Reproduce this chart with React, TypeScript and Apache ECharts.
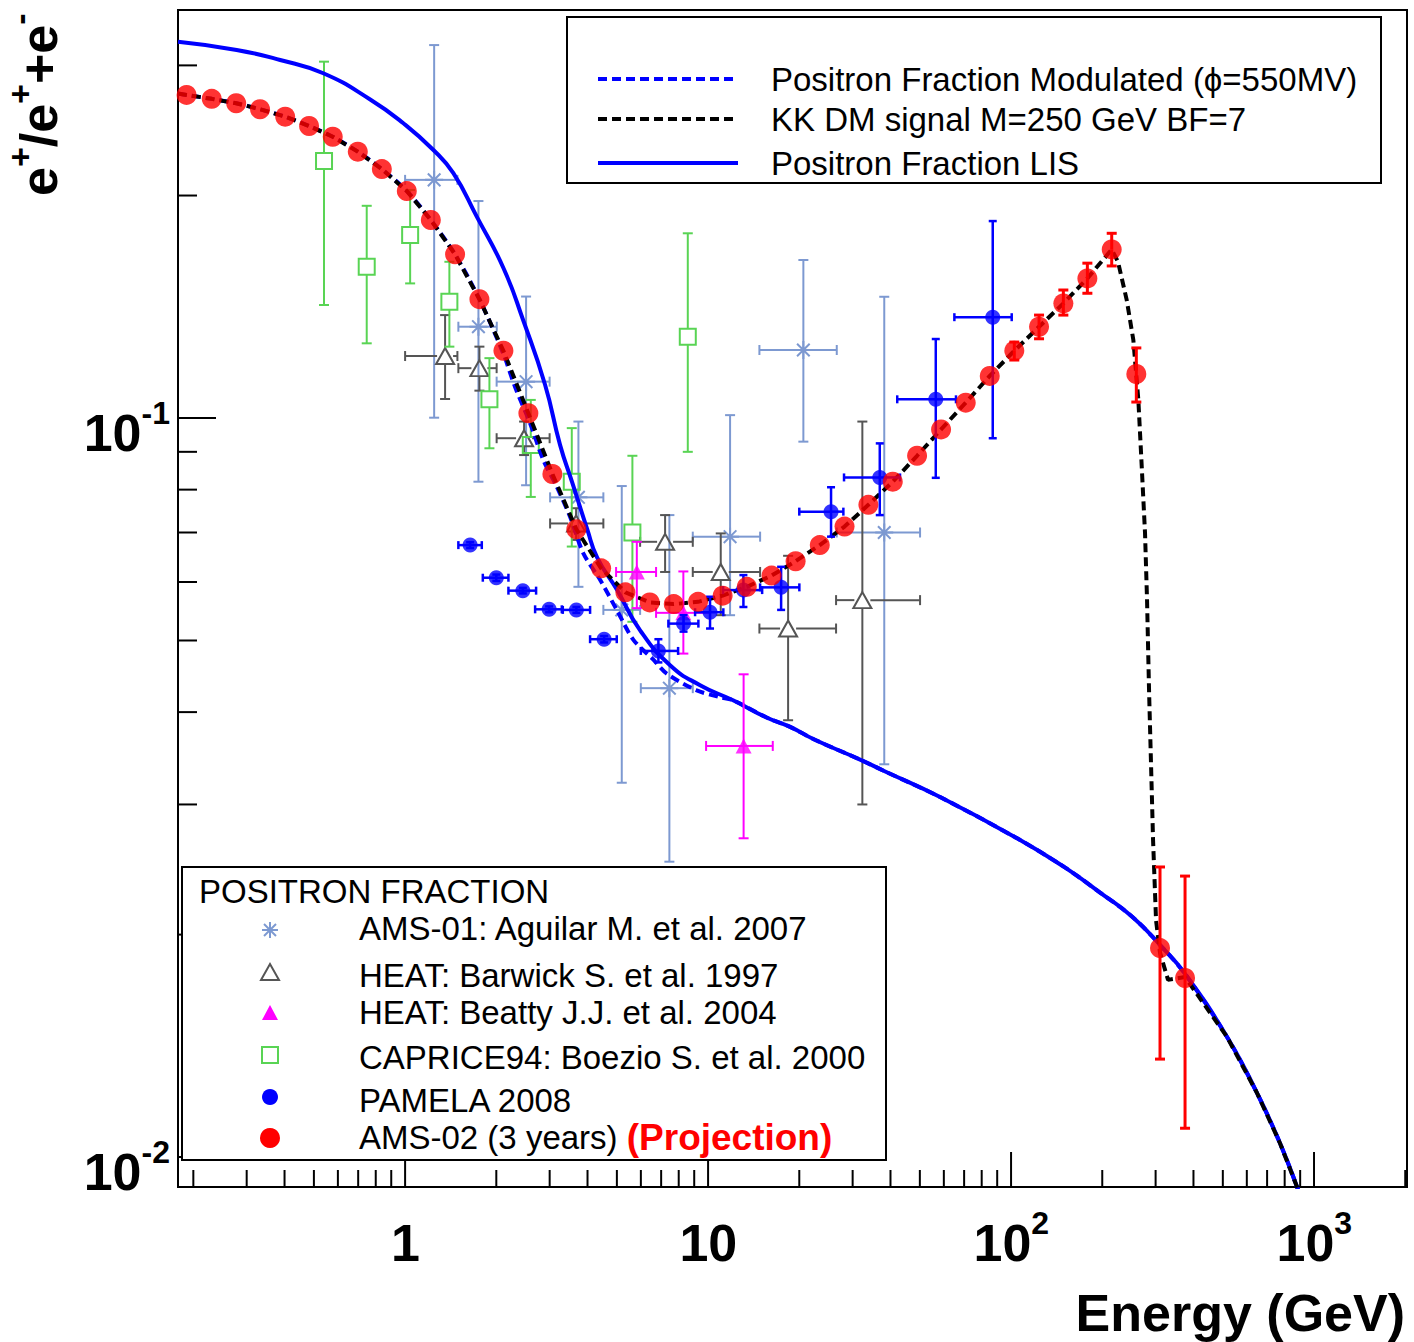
import React, { useEffect, useRef } from 'react';
import * as echarts from 'echarts';

const FONT = "'Liberation Sans', Arial, Helvetica, sans-serif";

// ---------------- axis ranges & ticks ----------------
const X_MIN = 0.178;
const X_MAX = 2027;
const Y_MIN = 0.00911;
const Y_MAX = 0.3565;

const xMajorTicks = [1, 10, 100, 1000];
const xMinorTicks = [0.2, 0.3, 0.4, 0.5, 0.6, 0.7, 0.8, 0.9, 2, 3, 4, 5, 6, 7, 8, 9, 20, 30, 40, 50, 60, 70, 80, 90, 200, 300, 400, 500, 600, 700, 800, 900, 2000];
const yMajorTicks = [0.01, 0.1];
const yMinorTicks = [0.02, 0.03, 0.04, 0.05, 0.06, 0.07, 0.08, 0.09, 0.2, 0.3];

// ---------------- model curves ----------------
const lisE = [0.178, 0.278, 0.387, 0.537, 0.767, 0.987, 1.24, 1.443, 1.724, 2.111, 2.452, 2.897, 3.248, 3.558, 3.988, 4.302, 5.009, 5.966, 7.491, 9.41, 12.09, 15.66, 18.65, 22.51, 31.74, 38.1, 58.31, 104.7, 149.6, 196.7, 252.7, 312.6, 375.2, 516.3, 648.4, 772.2, 878.9, 970];
const lisV = [0.3229, 0.3148, 0.3051, 0.2927, 0.2698, 0.2505, 0.2305, 0.2144, 0.1873, 0.1596, 0.1357, 0.1109, 0.0919, 0.0819, 0.0708, 0.0648, 0.0585, 0.0516, 0.0463, 0.0435, 0.0415, 0.0393, 0.0382, 0.0367, 0.0345, 0.0333, 0.0307, 0.027, 0.0247, 0.0228, 0.0211, 0.0193, 0.0177, 0.01454, 0.01221, 0.01044, 0.00911, 0.00809];

const modE = [0.178, 0.19, 0.23, 0.277, 0.332, 0.402, 0.482, 0.577, 0.698, 0.838, 1.013, 1.216, 1.462, 1.759, 2.111, 2.307, 2.585, 2.86, 3.168, 3.503, 3.876, 4.401, 4.996, 5.669, 6.598, 7.305, 9.178, 10.95, 12.09, 15.66, 18.65, 22.51, 31.74, 38.1, 58.31, 104.7, 149.6, 196.7, 252.7, 312.6, 375.2, 516.3, 648.4, 772.2, 878.9, 970];
const modV = [0.2749, 0.2736, 0.2703, 0.2666, 0.2617, 0.2557, 0.2484, 0.2402, 0.2293, 0.2172, 0.2028, 0.1853, 0.1665, 0.1448, 0.1221, 0.1101, 0.0984, 0.0877, 0.0807, 0.0735, 0.0656, 0.0604, 0.055, 0.0501, 0.0471, 0.0451, 0.0428, 0.0419, 0.0415, 0.0393, 0.0382, 0.0367, 0.0345, 0.0333, 0.0307, 0.027, 0.0247, 0.0228, 0.0211, 0.0193, 0.0177, 0.01454, 0.01221, 0.01044, 0.00911, 0.00809];

const kkE = [0.178, 0.19, 0.23, 0.277, 0.332, 0.402, 0.482, 0.577, 0.698, 0.838, 1.013, 1.216, 1.462, 1.759, 2.111, 2.552, 3.063, 3.675, 4.436, 5.335, 6.421, 7.704, 9.268, 11.17, 13.42, 16.2, 19.45, 23.37, 28.21, 33.81, 40.7, 48.96, 58.75, 70.87, 85.05, 102.5, 123.7, 148.8, 178.6, 214.9, 225.5, 240.9, 253.3, 263.1, 270.0, 276.8, 281.1, 285.4, 289.8, 294.2, 301.0, 310.2, 329.7, 375.2, 516.3, 648.4, 772.2, 878.9, 970];
const kkV = [0.2749, 0.2736, 0.2703, 0.2666, 0.2617, 0.2557, 0.2484, 0.2402, 0.2293, 0.2172, 0.2028, 0.1853, 0.1665, 0.1448, 0.1233, 0.1015, 0.084, 0.0707, 0.0626, 0.0581, 0.0563, 0.056, 0.0564, 0.0575, 0.0591, 0.0612, 0.064, 0.0673, 0.0713, 0.0763, 0.082, 0.0889, 0.0965, 0.1049, 0.114, 0.1233, 0.1329, 0.1429, 0.1545, 0.1691, 0.1626, 0.1444, 0.1275, 0.1058, 0.0859, 0.0699, 0.0567, 0.0428, 0.0339, 0.0269, 0.0209, 0.0189, 0.01737, 0.01752, 0.01454, 0.01221, 0.01044, 0.00911, 0.00809];

// ---------------- measurements ----------------
// AMS-01: Aguilar M. et al. 2007
const ams01E = [1.247, 1.746, 2.508, 3.733, 5.189, 7.452, 11.82, 20.63, 38.15];
const ams01Elo = [1.0, 1.499, 2.005, 3.01, 4.512, 5.998, 8.902, 14.77, 26.59];
const ams01Ehi = [1.488, 2.007, 2.999, 4.512, 5.966, 8.902, 14.85, 26.59, 50.08];
const ams01V = [0.21, 0.1329, 0.112, 0.0781, 0.055, 0.0431, 0.0691, 0.1236, 0.07];
const ams01Vlo = [0.1001, 0.082, 0.0811, 0.0591, 0.0321, 0.0251, 0.0541, 0.0929, 0.034];
const ams01Vhi = [0.3196, 0.1966, 0.146, 0.0989, 0.0809, 0.0739, 0.1009, 0.1636, 0.1459];

// HEAT: Barwick S. et al. 1997
const heat97E = [1.355, 1.759, 2.47, 3.667, 7.213, 11.01, 18.37, 32.3];
const heat97Elo = [1.0, 1.499, 2.005, 3.01, 5.966, 8.902, 14.77, 26.45];
const heat97Ehi = [1.488, 2.005, 2.999, 4.512, 8.902, 14.85, 26.45, 50.08];
const heat97V = [0.1213, 0.1168, 0.0939, 0.072, 0.068, 0.0619, 0.0519, 0.0567];
const heat97Vlo = [0.1061, 0.1089, 0.0891, 0.0684, 0.0619, 0.0541, 0.039, 0.03];
const heat97Vhi = [0.1378, 0.1249, 0.0989, 0.0755, 0.0739, 0.0698, 0.0651, 0.0989];

// HEAT: Beatty J.J. et al. 2004
const heat04E = [5.818, 8.287, 13.1];
const heat04Elo = [4.97, 6.735, 9.85];
const heat04Ehi = [6.735, 10.15, 16.35];
const heat04V = [0.0619, 0.0545, 0.036];
const heat04Vlo = [0.0553, 0.048, 0.027];
const heat04Vhi = [0.068, 0.062, 0.045];

// CAPRICE94: Boezio S. et al. 2000
const capriceE = [0.54, 0.747, 1.039, 1.4, 1.898, 2.599, 3.549, 5.626, 8.571];
const capriceV = [0.2228, 0.1602, 0.1769, 0.1437, 0.106, 0.0919, 0.082, 0.07, 0.1288];
const capriceVlo = [0.1422, 0.1262, 0.1521, 0.1249, 0.091, 0.0782, 0.067, 0.053, 0.09];
const capriceVhi = [0.3035, 0.1937, 0.2035, 0.1627, 0.1205, 0.1058, 0.0969, 0.0889, 0.1778];

// PAMELA 2008
const pamelaE = [1.639, 2.0, 2.447, 2.988, 3.675, 4.538, 6.855, 8.299, 10.15, 13.08, 17.42, 25.46, 36.87, 56.43, 87.0];
const pamelaElo = [1.499, 1.805, 2.193, 2.686, 3.315, 4.079, 5.998, 7.396, 9.06, 11.21, 14.85, 20.0, 28.1, 42.1, 65.0];
const pamelaEhi = [1.791, 2.193, 2.706, 3.29, 4.079, 4.995, 7.962, 9.29, 11.23, 15.08, 20.01, 27.96, 43.0, 65.8, 100.5];
const pamelaV = [0.0673, 0.0608, 0.0584, 0.0551, 0.055, 0.0502, 0.0484, 0.0527, 0.0546, 0.0585, 0.059, 0.0747, 0.0831, 0.106, 0.1369];
const pamelaVlo = [0.0667, 0.0602, 0.0579, 0.0546, 0.0545, 0.0497, 0.0467, 0.0514, 0.0519, 0.0555, 0.055, 0.0691, 0.0739, 0.083, 0.0939];
const pamelaVhi = [0.0679, 0.0614, 0.0589, 0.0556, 0.0555, 0.0507, 0.0502, 0.0541, 0.0573, 0.0613, 0.0629, 0.0806, 0.0924, 0.1279, 0.1847];

// AMS-02 (3 years) projection
const ams02E = [0.19, 0.23, 0.277, 0.332, 0.402, 0.482, 0.577, 0.698, 0.838, 1.013, 1.216, 1.462, 1.759, 2.111, 2.552, 3.063, 3.675, 4.436, 5.335, 6.421, 7.704, 9.268, 11.17, 13.42, 16.2, 19.45, 23.37, 28.21, 33.81, 40.7, 48.96, 58.75, 70.87, 85.05, 102.5, 123.7, 148.8, 178.6, 214.9, 259.1, 310.2, 375.2];
const ams02V = [0.2736, 0.2703, 0.2666, 0.2617, 0.2557, 0.2484, 0.2402, 0.2293, 0.2172, 0.2028, 0.1853, 0.1665, 0.1448, 0.1233, 0.1015, 0.084, 0.0707, 0.0626, 0.0581, 0.0563, 0.056, 0.0564, 0.0575, 0.0591, 0.0612, 0.064, 0.0673, 0.0713, 0.0763, 0.082, 0.0889, 0.0965, 0.1049, 0.114, 0.1233, 0.1329, 0.1429, 0.1545, 0.1691, 0.1147, 0.01918, 0.01747];
const ams02BarE = [102.5, 123.7, 148.8, 178.6, 214.9, 259.1, 310.2, 375.2];
const ams02BarV = [0.1233, 0.1329, 0.1429, 0.1545, 0.1691, 0.1147, 0.01918, 0.01747];
const ams02BarLo = [0.1198, 0.128, 0.1378, 0.1475, 0.1606, 0.1051, 0.01357, 0.01094];
const ams02BarHi = [0.1267, 0.1378, 0.149, 0.162, 0.1778, 0.1244, 0.02469, 0.024];

// ---------------- legends ----------------
const legendTopLabels = ['Positron Fraction Modulated (\u03D5=550MV)', 'KK DM signal M=250 GeV BF=7', 'Positron Fraction LIS'];
const legendBottomTitle = 'POSITRON FRACTION';
const legendBottomLabels = ['AMS-01: Aguilar M. et al. 2007', 'HEAT: Barwick S. et al. 1997', 'HEAT: Beatty J.J. et al. 2004', 'CAPRICE94: Boezio S. et al. 2000', 'PAMELA 2008', 'AMS-02 (3 years) '];
const projectionLabel = '(Projection)';
const xTitle = 'Energy (GeV)';

const C_AMS01 = '#7d99d1';
const C_HEAT97 = '#555555';
const C_HEAT04 = '#ff00ff';
const C_CAPRICE = '#59d454';
const C_PAMELA = '#0000ff';
const C_AMS02 = '#ff0000';

const pairs = (a: number[], b: number[]) => a.map((v, i) => [v, b[i]]);

function errorSeries(o: any) {
  const n = o.E.length;
  const data: any[] = [];
  for (let i = 0; i < n; i++) {
    data.push([
      o.E[i], o.V[i],
      o.Elo ? o.Elo[i] : null, o.Ehi ? o.Ehi[i] : null,
      o.Vlo ? o.Vlo[i] : null, o.Vhi ? o.Vhi[i] : null,
    ]);
  }
  return {
    type: 'custom',
    silent: true,
    z: o.z,
    clip: true,
    encode: { x: 0, y: 1 },
    dimensions: ['x', 'y', 'xlo', 'xhi', 'ylo', 'yhi'],
    data,
    renderItem: (params: any, api: any) => {
      const x = Number(api.value(0));
      const y = Number(api.value(1));
      const c = api.coord([x, y]);
      const style = { stroke: o.color, lineWidth: o.width, fill: 'none' };
      const ch: any[] = [];
      const seg = (x1: number, y1: number, x2: number, y2: number) =>
        ch.push({ type: 'line', shape: { x1, y1, x2, y2 }, style });
      const gap = o.gap;
      const cap = o.cap;
      const xlo = Number(api.value(2));
      const xhi = Number(api.value(3));
      const ylo = Number(api.value(4));
      const yhi = Number(api.value(5));
      if (xlo > 0) {
        const px = api.coord([xlo, y])[0];
        if (px < c[0] - gap) seg(px, c[1], c[0] - gap, c[1]);
        seg(px, c[1] - cap, px, c[1] + cap);
      }
      if (xhi > 0) {
        const px = api.coord([xhi, y])[0];
        if (px > c[0] + gap) seg(c[0] + gap, c[1], px, c[1]);
        seg(px, c[1] - cap, px, c[1] + cap);
      }
      if (ylo > 0) {
        const py = api.coord([x, ylo])[1];
        if (py > c[1] + gap) seg(c[0], c[1] + gap, c[0], py);
        seg(c[0] - cap, py, c[0] + cap, py);
      }
      if (yhi > 0) {
        const py = api.coord([x, yhi])[1];
        if (py < c[1] - gap) seg(c[0], py, c[0], c[1] - gap);
        seg(c[0] - cap, py, c[0] + cap, py);
      }
      return { type: 'group', children: ch };
    },
  };
}

function tickSeries(vals: number[], axis: 'x' | 'y', len: number) {
  return {
    type: 'custom',
    silent: true,
    z: 1,
    clip: false,
    encode: { x: 0, y: 1 },
    data: vals.map((v) => (axis === 'x' ? [v, Y_MIN] : [X_MIN, v])),
    renderItem: (params: any, api: any) => {
      const cs = params.coordSys;
      const p = api.coord([api.value(0), api.value(1)]);
      const style = { stroke: '#000', lineWidth: 2 };
      if (axis === 'x') {
        const yb = cs.y + cs.height;
        return { type: 'line', shape: { x1: p[0], y1: yb, x2: p[0], y2: yb - len }, style };
      }
      return { type: 'line', shape: { x1: cs.x, y1: p[1], x2: cs.x + len, y2: p[1] }, style };
    },
  };
}

const axisRich = {
  h: { fontSize: 2, lineHeight: 62 },
  b: { fontSize: 52, fontWeight: 'bold', fontFamily: FONT, color: '#000', lineHeight: 50, verticalAlign: 'bottom' },
  s: { fontSize: 32, fontWeight: 'bold', fontFamily: FONT, color: '#000', lineHeight: 28, verticalAlign: 'top' },
};

const expLabel = (v: number, plainLow: boolean) => {
  const e = Math.log10(v);
  const r = Math.round(e);
  if (Math.abs(e - r) > 1e-6) return '';
  if (plainLow && r === 0) return '{h| }{b|1}';
  if (plainLow && r === 1) return '{h| }{b|10}';
  return `{h| }{b|10}{s|${r}}`;
};

function buildGraphic() {
  const els: any[] = [];
  // top legend
  const topRows = [79, 119, 163];
  const topColors = ['#0000ff', '#000000', '#0000ff'];
  const topDash = [true, true, false];
  els.push({ type: 'rect', z: 100, shape: { x: 567, y: 17, width: 814, height: 166 }, style: { fill: '#fff', stroke: '#000', lineWidth: 2 } });
  legendTopLabels.forEach((label, i) => {
    els.push({
      type: 'line', z: 101,
      shape: { x1: 598, y1: topRows[i], x2: 738, y2: topRows[i] },
      style: { stroke: topColors[i], lineWidth: 4, lineDash: topDash[i] ? [9, 5] : null },
    });
    els.push({
      type: 'text', z: 101, x: 771, y: topRows[i],
      style: { text: label, fontSize: 33, fontFamily: FONT, fill: '#000', align: 'left', verticalAlign: 'middle' },
    });
  });

  // bottom legend
  els.push({ type: 'rect', z: 100, shape: { x: 182, y: 867, width: 704, height: 293 }, style: { fill: '#fff', stroke: '#000', lineWidth: 2 } });
  els.push({
    type: 'text', z: 101, x: 199, y: 891,
    style: { text: legendBottomTitle, fontSize: 33, fontFamily: FONT, fill: '#000', align: 'left', verticalAlign: 'middle' },
  });
  const textRows = [928, 975, 1012, 1057, 1100, 1137];
  const mx = 270;
  const markRows = [930, 972, 1013, 1055, 1097, 1138];
  legendBottomLabels.forEach((label, i) => {
    if (i < 5) {
      els.push({
        type: 'text', z: 101, x: 359, y: textRows[i],
        style: { text: label, fontSize: 33, fontFamily: FONT, fill: '#000', align: 'left', verticalAlign: 'middle' },
      });
    } else {
      els.push({
        type: 'text', z: 101, x: 359, y: textRows[i],
        style: {
          text: `{n|${label}}{p|${projectionLabel}}`,
          align: 'left', verticalAlign: 'middle',
          rich: {
            n: { fontSize: 33, fontFamily: FONT, fill: '#000' },
            p: { fontSize: 37, fontFamily: FONT, fontWeight: 'bold', fill: '#ff0000' },
          },
        },
      });
    }
  });
  // markers
  const sy = markRows[0];
  const st1 = { stroke: C_AMS01, lineWidth: 2 };
  els.push({ type: 'line', z: 101, shape: { x1: mx - 8, y1: sy, x2: mx + 8, y2: sy }, style: st1 });
  els.push({ type: 'line', z: 101, shape: { x1: mx, y1: sy - 8, x2: mx, y2: sy + 8 }, style: st1 });
  els.push({ type: 'line', z: 101, shape: { x1: mx - 6, y1: sy - 6, x2: mx + 6, y2: sy + 6 }, style: st1 });
  els.push({ type: 'line', z: 101, shape: { x1: mx + 6, y1: sy - 6, x2: mx - 6, y2: sy + 6 }, style: st1 });
  els.push({
    type: 'polygon', z: 101,
    shape: { points: [[mx - 9, markRows[1] + 8], [mx + 9, markRows[1] + 8], [mx, markRows[1] - 8]] },
    style: { fill: 'none', stroke: C_HEAT97, lineWidth: 2 },
  });
  els.push({
    type: 'polygon', z: 101,
    shape: { points: [[mx - 8, markRows[2] + 7], [mx + 8, markRows[2] + 7], [mx, markRows[2] - 8]] },
    style: { fill: C_HEAT04 },
  });
  els.push({
    type: 'rect', z: 101,
    shape: { x: mx - 8, y: markRows[3] - 8, width: 16, height: 16 },
    style: { fill: 'none', stroke: C_CAPRICE, lineWidth: 2 },
  });
  els.push({ type: 'circle', z: 101, shape: { cx: mx, cy: markRows[4], r: 8 }, style: { fill: C_PAMELA } });
  els.push({ type: 'circle', z: 101, shape: { cx: mx, cy: markRows[5], r: 10 }, style: { fill: C_AMS02 } });

  // axis titles
  els.push({
    type: 'text', z: 50, x: 1405, y: 1313,
    style: { text: xTitle, fontSize: 52, fontWeight: 'bold', fontFamily: FONT, fill: '#000', align: 'right', verticalAlign: 'middle' },
  });
  els.push({
    type: 'text', z: 50, x: 34, y: 105, rotation: Math.PI / 2,
    style: {
      text: '{h| }{b|e}{s|+}{b|/e}{s|+}{b|+e}{s|-}',
      align: 'center', verticalAlign: 'middle',
      rich: {
        h: { fontSize: 2, lineHeight: 62 },
        b: { fontSize: 52, fontWeight: 'bold', fontFamily: FONT, fill: '#000', lineHeight: 50, verticalAlign: 'bottom' },
        s: { fontSize: 34, fontWeight: 'bold', fontFamily: FONT, fill: '#000', lineHeight: 28, verticalAlign: 'top' },
      },
    },
  });
  return els;
}

function buildOption(): any {
  const series: any[] = [
    tickSeries(xMajorTicks, 'x', 35),
    tickSeries(xMinorTicks, 'x', 17),
    tickSeries(yMajorTicks, 'y', 38),
    tickSeries(yMinorTicks, 'y', 19),

    errorSeries({ E: ams01E, V: ams01V, Elo: ams01Elo, Ehi: ams01Ehi, Vlo: ams01Vlo, Vhi: ams01Vhi, color: C_AMS01, width: 2, gap: 0, cap: 5, z: 2 }),
    {
      type: 'scatter', name: 'AMS-01', silent: true, z: 3,
      data: pairs(ams01E, ams01V),
      symbol: 'path://M0,10L20,10M10,0L10,20M3,3L17,17M17,3L3,17',
      symbolSize: 18,
      itemStyle: { color: 'rgba(0,0,0,0)', borderColor: C_AMS01, borderWidth: 2, opacity: 1 },
    },

    errorSeries({ E: heat97E, V: heat97V, Elo: heat97Elo, Ehi: heat97Ehi, Vlo: heat97Vlo, Vhi: heat97Vhi, color: C_HEAT97, width: 2, gap: 8, cap: 5, z: 4 }),
    {
      type: 'scatter', name: 'HEAT 1997', silent: true, z: 5,
      data: pairs(heat97E, heat97V),
      symbol: 'triangle', symbolSize: [18, 16],
      itemStyle: { color: 'rgba(0,0,0,0)', borderColor: C_HEAT97, borderWidth: 2, opacity: 1 },
    },

    errorSeries({ E: capriceE, V: capriceV, Vlo: capriceVlo, Vhi: capriceVhi, color: C_CAPRICE, width: 2, gap: 8, cap: 5, z: 6 }),
    {
      type: 'scatter', name: 'CAPRICE94', silent: true, z: 7,
      data: pairs(capriceE, capriceV),
      symbol: 'rect', symbolSize: 16,
      itemStyle: { color: 'rgba(0,0,0,0)', borderColor: C_CAPRICE, borderWidth: 2, opacity: 1 },
    },

    {
      type: 'line', name: 'Positron Fraction LIS', silent: true, z: 8,
      data: pairs(lisE, lisV), showSymbol: false, symbol: 'none', smooth: 0.5, clip: true,
      lineStyle: { color: '#0000ff', width: 4 },
    },
    {
      type: 'line', name: 'Positron Fraction Modulated', silent: true, z: 9,
      data: pairs(modE, modV), showSymbol: false, symbol: 'none', smooth: 0.3, clip: true,
      lineStyle: { color: '#0000ff', width: 4, type: [9, 5] },
    },
    {
      type: 'line', name: 'KK DM signal', silent: true, z: 10,
      data: pairs(kkE, kkV), showSymbol: false, symbol: 'none', smooth: false, clip: true,
      lineStyle: { color: '#000000', width: 4, type: [9, 5] },
    },

    errorSeries({ E: heat04E, V: heat04V, Elo: heat04Elo, Ehi: heat04Ehi, Vlo: heat04Vlo, Vhi: heat04Vhi, color: C_HEAT04, width: 2, gap: 0, cap: 5, z: 11 }),
    {
      type: 'scatter', name: 'HEAT 2004', silent: true, z: 12,
      data: pairs(heat04E, heat04V),
      symbol: 'triangle', symbolSize: [16, 15],
      itemStyle: { color: C_HEAT04 },
    },

    errorSeries({ E: pamelaE, V: pamelaV, Elo: pamelaElo, Ehi: pamelaEhi, Vlo: pamelaVlo, Vhi: pamelaVhi, color: C_PAMELA, width: 2.5, gap: 0, cap: 4, z: 13 }),
    {
      type: 'scatter', name: 'PAMELA 2008', silent: true, z: 14,
      data: pairs(pamelaE, pamelaV),
      symbol: 'circle', symbolSize: 15,
      itemStyle: { color: C_PAMELA },
    },

    errorSeries({ E: ams02BarE, V: ams02BarV, Vlo: ams02BarLo, Vhi: ams02BarHi, color: C_AMS02, width: 3, gap: 0, cap: 5, z: 15 }),
    {
      type: 'scatter', name: 'AMS-02', silent: true, z: 16,
      data: pairs(ams02E, ams02V),
      symbol: 'circle', symbolSize: 20,
      itemStyle: { color: C_AMS02 },
    },
  ];

  return {
    animation: false,
    backgroundColor: '#ffffff',
    grid: { left: 178, top: 10, width: 1229, height: 1177, show: true, borderColor: '#000', borderWidth: 2, backgroundColor: 'transparent' },
    xAxis: {
      type: 'log', logBase: 10, min: X_MIN, max: X_MAX,
      axisLine: { show: false }, axisTick: { show: false }, splitLine: { show: false }, minorTick: { show: false },
      axisLabel: {
        margin: 20, showMinLabel: false, showMaxLabel: false,
        formatter: (v: number) => expLabel(v, true),
        rich: axisRich,
      },
    },
    yAxis: {
      type: 'log', logBase: 10, min: Y_MIN, max: Y_MAX,
      axisLine: { show: false }, axisTick: { show: false }, splitLine: { show: false }, minorTick: { show: false },
      axisLabel: {
        margin: 8, padding: [20, 0, 0, 0], showMinLabel: false, showMaxLabel: false,
        formatter: (v: number) => expLabel(v, false),
        rich: axisRich,
      },
    },
    series,
    graphic: { elements: buildGraphic() },
  };
}

export default function App() {
  const ref = useRef<HTMLDivElement>(null);
  useEffect(() => {
    if (!ref.current) return;
    const chart = echarts.init(ref.current, undefined, { renderer: 'svg' });
    chart.setOption(buildOption());
    return () => chart.dispose();
  }, []);
  return (
    <div
      ref={ref}
      style={{ position: 'fixed', left: 0, top: 0, width: 1414, height: 1342, background: '#fff' }}
    />
  );
}
